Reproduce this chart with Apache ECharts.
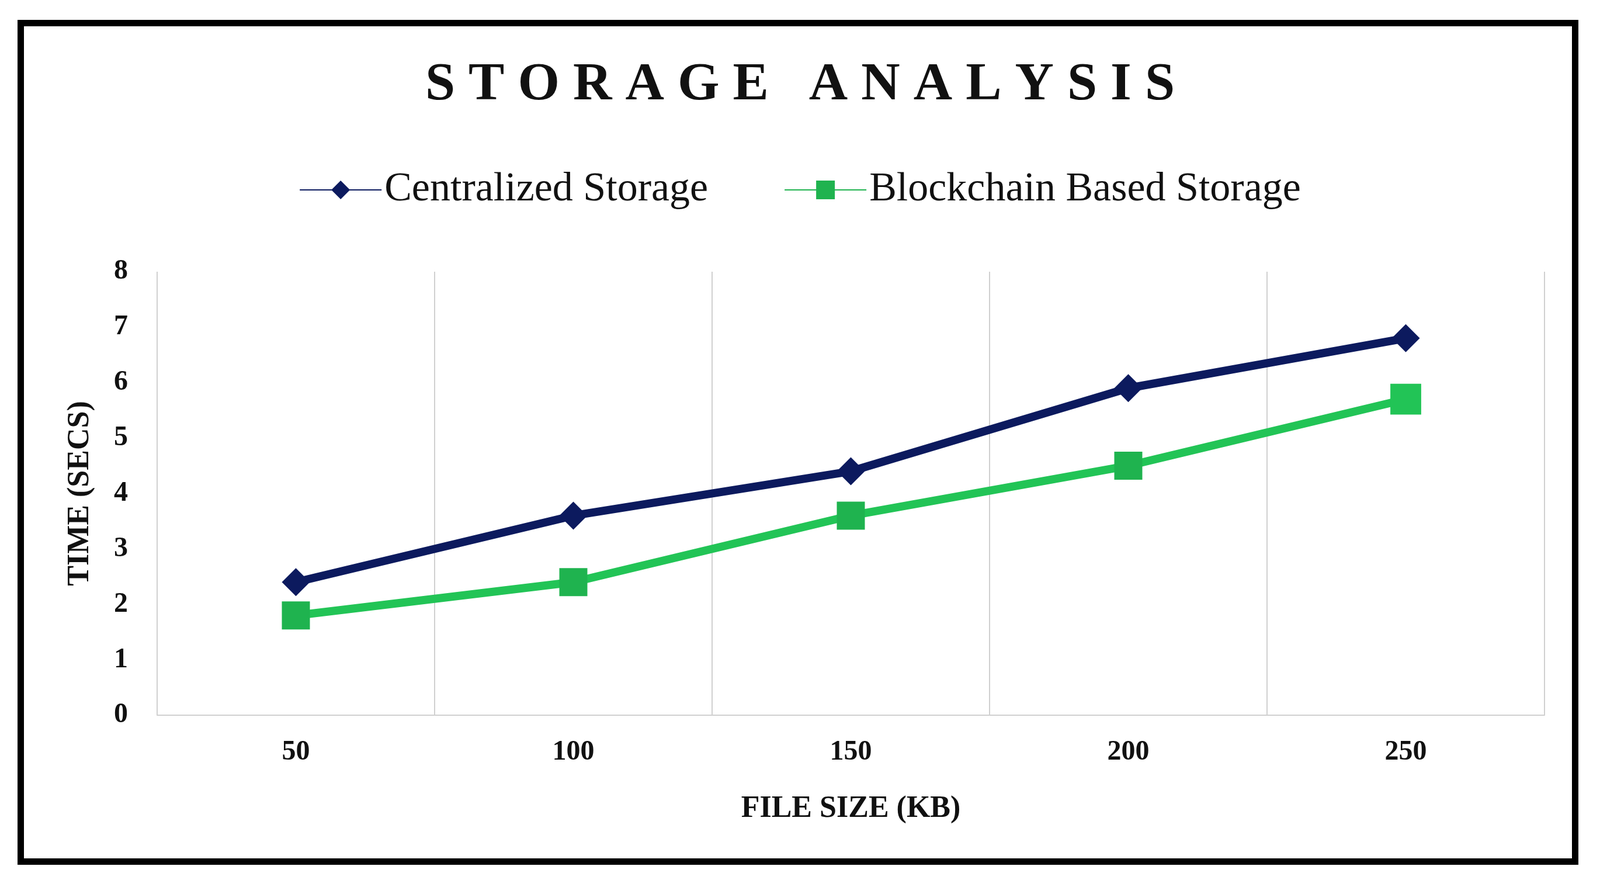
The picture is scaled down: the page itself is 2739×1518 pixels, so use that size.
<!DOCTYPE html>
<html>
<head>
<meta charset="utf-8">
<script src="https://cdn.jsdelivr.net/npm/echarts@6/dist/echarts.min.js"></script>
<style>
html,body{margin:0;padding:0;background:#fff;}
#frame{position:absolute;left:30px;top:34px;width:2672px;height:1446px;border:11px solid #000;box-sizing:border-box;}
#echart{position:absolute;left:0;top:0;width:2739px;height:1518px;}
</style>
</head>
<body>
<div id="frame"></div>
<div id="echart"></div>
<script>
var categories = ['50', '100', '150', '200', '250'];
var centralized = [2.4, 3.6, 4.4, 5.9, 6.8];
var blockchain = [1.8, 2.4, 3.6, 4.5, 5.7];
var yTicks = [0, 1, 2, 3, 4, 5, 6, 7, 8];

var myChart = echarts.init(document.getElementById('echart'));
var serif = "'Liberation Serif', 'DejaVu Serif', serif";
var option = {
    title: {
        text: 'S T O R A G E   A N A L Y S I S',
        left: 'center',
        top: 95,
        textStyle: {fontFamily: serif, fontWeight: 'bold', fontSize: 92, color: '#111'}
    },
    legend: {
        top: 285,
        left: 'center',
        itemWidth: 140,
        itemHeight: 40,
        itemGap: 130,
        textStyle: {fontFamily: serif, fontSize: 70, color: '#111'},
        data: ['Centralized Storage', 'Blockchain Based Storage']
    },
    grid: {left: 269, right: 95, top: 465, bottom: 294},
    xAxis: {
        type: 'category',
        data: categories,
        name: 'FILE SIZE (KB)',
        nameLocation: 'middle',
        nameGap: 135,
        nameTextStyle: {fontFamily: serif, fontWeight: 'bold', fontSize: 52, color: '#111'},
        axisLine: {lineStyle: {color: '#d0d0d0', width: 2}},
        axisTick: {show: false},
        splitLine: {show: true, lineStyle: {color: '#d0d0d0', width: 2}},
        axisLabel: {fontFamily: serif, fontWeight: 'bold', fontSize: 48, color: '#111', margin: 40}
    },
    yAxis: {
        type: 'value',
        min: yTicks[0],
        max: yTicks[yTicks.length - 1],
        interval: 1,
        name: 'TIME (SECS)',
        nameLocation: 'middle',
        nameGap: 105,
        nameTextStyle: {fontFamily: serif, fontWeight: 'bold', fontSize: 52, color: '#111'},
        axisLine: {show: false},
        axisTick: {show: false},
        splitLine: {show: false},
        axisLabel: {fontFamily: serif, fontWeight: 'bold', fontSize: 48, color: '#111', margin: 50}
    },
    series: [
        {
            name: 'Centralized Storage',
            type: 'line',
            data: centralized,
            color: '#0c1a5e',
            symbol: 'diamond',
            symbolSize: 48,
            lineStyle: {width: 14},
            itemStyle: {color: '#0c1a5e'}
        },
        {
            name: 'Blockchain Based Storage',
            type: 'line',
            data: blockchain,
            color: '#1fb34f',
            symbol: 'rect',
            symbolSize: 48,
            lineStyle: {width: 14},
            itemStyle: {color: '#1fb34f'}
        }
    ]
};
myChart.setOption(option);
</script>
</body>
</html>
